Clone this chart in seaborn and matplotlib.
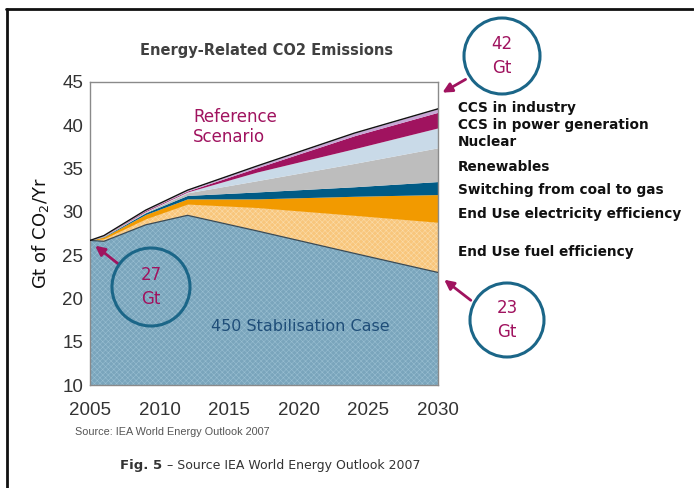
import numpy as np
import matplotlib
matplotlib.use("Agg")
import matplotlib.pyplot as plt
from matplotlib.patches import Ellipse
from matplotlib.lines import Line2D
import seaborn as sns

# ── Data (Gt CO2 / yr) ───────────────────────────────────────────────────────
years        = [2005, 2006, 2009, 2012, 2017, 2024, 2030]
base_450     = [26.7, 26.6, 28.5, 29.6, 27.8, 25.2, 23.0]   # 450 Stabilisation Case
fuel_eff     = [0.0, 0.3, 0.7, 1.3, 2.7, 4.4, 5.8]
elec_eff     = [0.0, 0.2, 0.5, 0.6, 1.0, 2.2, 3.2]
coal_to_gas  = [0.0, 0.05, 0.2, 0.4, 0.8, 1.1, 1.5]
renewables   = [0.0, 0.05, 0.1, 0.3, 1.3, 2.7, 3.9]
nuclear      = [0.0, 0.02, 0.05, 0.1, 1.0, 1.7, 2.3]
ccs_power    = [0.0, 0.02, 0.1, 0.1, 0.5, 1.5, 1.8]
ccs_industry = [0.0, 0.02, 0.05, 0.1, 0.2, 0.3, 0.4]

wedge_names = ["End Use fuel efficiency", "End Use electricity efficiency",
               "Switching from coal to gas", "Renewables", "Nuclear",
               "CCS in power generation", "CCS in industry"]
wedges = [fuel_eff, elec_eff, coal_to_gas, renewables, nuclear, ccs_power, ccs_industry]
wedge_colors = ["#f8c67c", "#f29a00", "#005b86", "#bdbdbd", "#c9dae8", "#a0135f", "#c7a6d6"]
label_y_px = [252, 214, 190, 167, 142, 125, 108]

MAGENTA = "#a0135f"
TEAL    = "#1b6688"
W, H = 694, 488

sns.set_theme(style="white")
plt.rcParams["font.family"] = ["DejaVu Sans"]
plt.rcParams["hatch.linewidth"] = 0.4

fig = plt.figure(figsize=(W / 100, H / 100), dpi=100)
ax = fig.add_axes([90 / W, 1 - 385 / H, 348 / W, 303 / H])

x = np.array(years, dtype=float)
lower = np.array(base_450, dtype=float)

# base area — dithered steel blue
ax.fill_between(x, 10, lower, facecolor="#7aa5bc", edgecolor="#98bed1",
                hatch="xxxxxx", linewidth=0, zorder=1)
sns.lineplot(x=x, y=lower, color="#3a4a55", linewidth=0.9, ax=ax, zorder=4)

for i, (vals, col) in enumerate(zip(wedges, wedge_colors)):
    upper = lower + np.array(vals)
    if i == 0:
        ax.fill_between(x, lower, upper, facecolor=col, edgecolor="#fbdcaa",
                        hatch="xxxxxx", linewidth=0, zorder=2)
    else:
        ax.fill_between(x, lower, upper, facecolor=col, linewidth=0, zorder=2)
    lower = upper

# reference scenario outline
sns.lineplot(x=x, y=lower, color="#111111", linewidth=1.0, ax=ax, zorder=5)

ax.set_xlim(2005, 2030)
ax.set_ylim(10, 45)
ax.set_xticks(range(2005, 2031, 5))
ax.set_yticks(range(10, 46, 5))
for s in ax.spines.values():
    s.set_color("#8a8a8a")
    s.set_linewidth(1.0)
ax.tick_params(axis="y", direction="out", length=4, color="#8a8a8a", width=1,
               labelsize=13.5, labelcolor="#333333", pad=1)
ax.tick_params(axis="x", direction="in", length=4, color="#8a8a8a", width=1,
               labelsize=13.5, labelcolor="#333333", pad=12)
for lab in ax.get_xticklabels() + ax.get_yticklabels():
    lab.set_fontfamily("Liberation Sans")
ax.set_xlabel("")
ax.set_ylabel("Gt of CO$_2$/Yr", fontsize=13, color="#111111", labelpad=8)

# in-chart labels
ax.text(193 / W, 1 - 127 / H, "Reference\nScenario", transform=fig.transFigure,
        color=MAGENTA, fontsize=12, ha="left", va="center", linespacing=1.2)
ax.text(2020.1, 16.7, "450 Stabilisation Case", color="#1f4e79",
        fontsize=11.5, ha="center", va="center")

fig.text(267 / W, 1 - 50 / H, "Energy-Related CO2 Emissions", fontsize=10.5,
         fontweight="bold", color="#404040", ha="center", va="center")

# wedge labels on the right
for name, ypx in zip(wedge_names, label_y_px):
    fig.text(458 / W, 1 - ypx / H, name, fontsize=9.8, fontweight="bold",
             color="#111111", ha="left", va="center")

# circled call-outs with arrows
def callout(cx, cy, r, txt, tail, head):
    e = Ellipse((cx / W, 1 - cy / H), 2 * r / W, 2 * r / H, transform=fig.transFigure,
                facecolor="none", edgecolor=TEAL, linewidth=2.2, zorder=10)
    fig.add_artist(e)
    fig.text(cx / W, 1 - cy / H, txt, color=MAGENTA, fontsize=12, ha="center",
             va="center", linespacing=1.4, zorder=11)
    ax.annotate("", xy=(head[0] / W, 1 - head[1] / H), xycoords="figure fraction",
                xytext=(tail[0] / W, 1 - tail[1] / H), textcoords="figure fraction",
                arrowprops=dict(arrowstyle="-|>", color=MAGENTA, lw=2,
                                mutation_scale=14), zorder=11, annotation_clip=False)

callout(502, 56, 38, "42\nGt", (468, 78), (440, 94))
callout(507, 320, 37, "23\nGt", (473, 302), (442, 278))
callout(151, 287, 39, "27\nGt", (121, 266), (93, 244))

fig.text(75 / W, 1 - 432 / H, "Source: IEA World Energy Outlook 2007", fontsize=7.8,
         fontfamily="Liberation Sans", color="#555555", ha="left", va="center")
fig.text(120 / W, 1 - 465 / H, "Fig. 5", fontsize=9.5, fontweight="bold",
         color="#333333", ha="left", va="center")
fig.text(167 / W, 1 - 465 / H, "– Source IEA World Energy Outlook 2007", fontsize=9,
         color="#333333", ha="left", va="center")

# page frame (top and left rules)
fig.add_artist(Line2D([6 / W, 693 / W], [1 - 9 / H, 1 - 9 / H], color="#111111",
                      linewidth=2, transform=fig.transFigure))
fig.add_artist(Line2D([7 / W, 7 / W], [1 - 9 / H, 0], color="#111111",
                      linewidth=2, transform=fig.transFigure))

fig.savefig("out.png", dpi=100)
